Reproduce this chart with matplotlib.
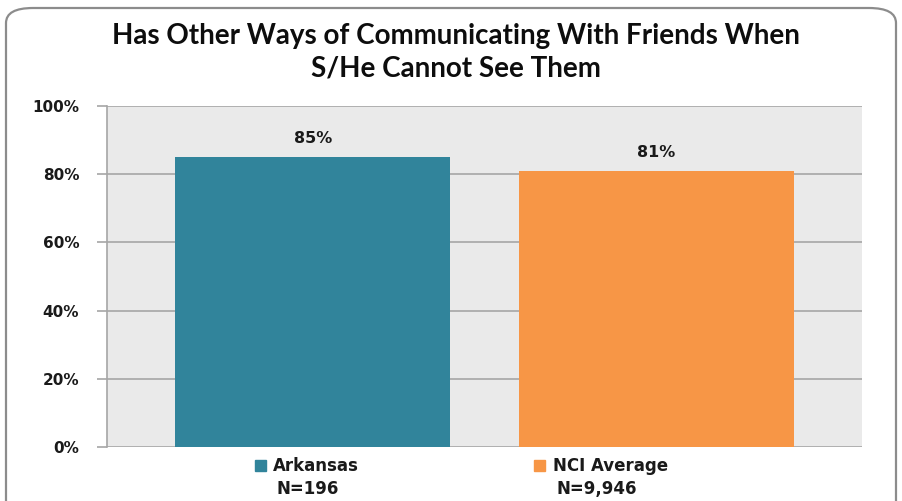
"""Bar chart: has other ways of communicating with friends."""
import matplotlib
matplotlib.use("Agg")
import matplotlib.pyplot as plt
from matplotlib.patches import FancyBboxPatch, Rectangle

groups = ["Arkansas", "NCI Average"]
sample_sizes = ["N=196", "N=9,946"]
values = [85, 81]
colors = ["#31849B", "#F79646"]
yticks = [0, 20, 40, 60, 80, 100]

W, H = 902, 501
fig = plt.figure(figsize=(W / 100, H / 100), dpi=100)
fig.patch.set_facecolor("white")

# rounded frame around the chart
frame = FancyBboxPatch((6 / W, -20 / H), 890 / W, (H - 8 + 20) / H,
                       boxstyle="round,pad=0,rounding_size=0.03",
                       transform=fig.transFigure, facecolor="none",
                       edgecolor="#8C8C8C", linewidth=1.6)
fig.patches.append(frame)

ax = fig.add_axes([107 / W, (H - 447) / H, 755 / W, 341 / H])
ax.set_facecolor("#EAEAEA")

x = [0, 1]
bar_w = 275 / 343
gap = 68 / 343
ax.bar(x, values, width=bar_w, color=colors, zorder=3)
for xi, v in zip(x, values):
    ax.text(xi, v + 3.3, f"{v}%", ha="center", va="bottom",
            fontsize=11.5, fontweight="bold", family="DejaVu Sans", color="#1a1a1a")

ax.set_xlim(-bar_w / 2 - gap, 1 + bar_w / 2 + gap)
ax.set_ylim(0, 100)
ax.set_yticks(yticks)
ax.set_yticklabels([f"{t}%" for t in yticks], fontsize=11, fontweight="bold",
                   family="DejaVu Sans", color="#1a1a1a")
ax.set_xticks([])
ax.yaxis.grid(True, color="#A6A6A6", linewidth=1.2, zorder=1)
ax.tick_params(axis="y", length=7, color="#A6A6A6", width=1.2, pad=13)
for side in ["top", "right", "bottom"]:
    ax.spines[side].set_visible(False)
ax.spines["left"].set_color("#A6A6A6")
ax.spines["left"].set_linewidth(1.2)

# legend-like labels below each bar
label_x = [316, 611]
n_x = [308, 597]
sq_x = [255, 534]
for i in range(2):
    fig.patches.append(Rectangle((sq_x[i] / W, (H - 471) / H), 11 / W, 11 / H,
                                 transform=fig.transFigure, color=colors[i]))
    fig.text(label_x[i] / W, (H - 466) / H, groups[i], ha="center", va="center",
             fontsize=12, fontweight="bold", family="DejaVu Sans", color="#1a1a1a")
    fig.text(n_x[i] / W, (H - 489) / H, sample_sizes[i], ha="center", va="center",
             fontsize=12, fontweight="bold", family="DejaVu Sans", color="#1a1a1a")

fig.text(456 / W, (H - 52) / H,
         "Has Other Ways of Communicating With Friends When\nS/He Cannot See Them",
         ha="center", va="center", fontsize=20, fontweight="bold", family="Lato",
         linespacing=1.3, color="#0d0d0d")

fig.savefig("out.png", dpi=100)
